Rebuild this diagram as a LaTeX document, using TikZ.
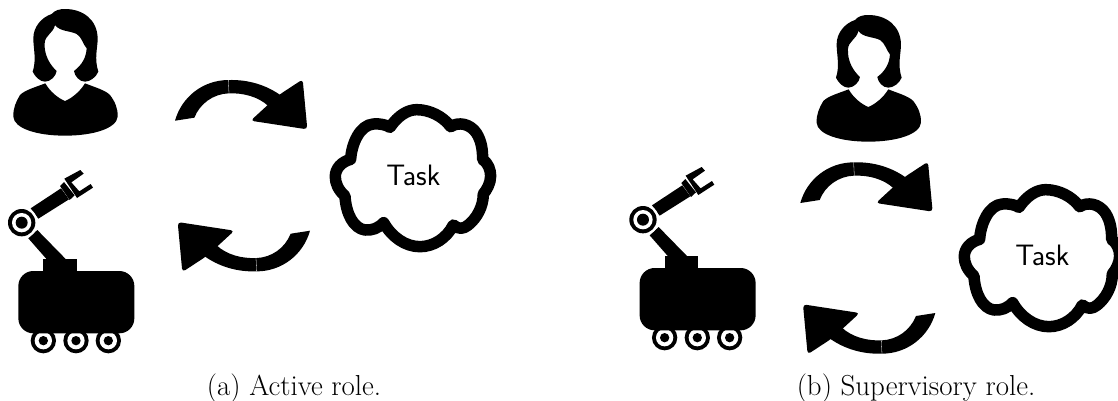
\documentclass[tikz,border=0pt]{standalone}
\usepackage{fontspec}
\tikzset{
  captext/.style={inner sep=0pt,anchor=base,font=\fontsize{28.9}{32}\selectfont\rmfamily},
  tasktext/.style={inner sep=0pt,font=\fontsize{29.5}{32}\selectfont\sffamily},
  person/.pic={
    \begin{scope}[scale=1/3]
    \fill[black] (155,42) .. controls (165,30) and (180,27) .. (195,27)
      .. controls (250,27) and (292,60) .. (293,115)
      .. controls (293,145) and (282,175) .. (295,215)
      .. controls (288,232) and (270,245) .. (255,245)
      .. controls (238,245) and (224,228) .. (222,213)
      .. controls (245,195) and (258,175) .. (260,145)
      .. controls (250,135) and (245,110) .. (230,102)
      .. controls (210,92) and (180,95) .. (165,75)
      .. controls (160,100) and (135,105) .. (134,130)
      .. controls (132,165) and (150,195) .. (170,213)
      .. controls (168,228) and (152,245) .. (135,245)
      .. controls (120,245) and (105,230) .. (98,215)
      .. controls (110,180) and (100,145) .. (100,115)
      .. controls (100,80) and (125,52) .. (155,42) -- cycle;
    \fill[black] (136,250) .. controls (150,275) and (175,295) .. (195,303)
      .. controls (215,295) and (240,275) .. (255,250)
      .. controls (285,262) and (315,270) .. (330,285)
      .. controls (345,305) and (354,325) .. (353,350)
      .. controls (350,385) and (280,407) .. (195,407)
      .. controls (110,407) and (42,385) .. (40,350)
      .. controls (39,325) and (48,305) .. (60,285)
      .. controls (75,270) and (105,262) .. (136,250) -- cycle;
    \end{scope}
  },
  robot/.pic={
    \begin{scope}[scale=1/3]
    \foreach \wx in {130,228,325}{
      \fill[black] (\wx,512) circle (38);
      \fill[white] (\wx,512) circle (26);
      \fill[black] (\wx,512) circle (14);
    }
    \fill[black,rounded corners=15pt] (55,303) rectangle (403,490);
    \fill[black] (130,267) rectangle (231,310);
    \fill[black] (85,205) -- (112,180) -- (200,270) -- (142,270) -- cycle;
    \fill[black] (92,115) -- (183,55) -- (207,88) -- (115,146) -- cycle;
    \fill[white] (65,158) circle (48);
    \fill[black] (65,158) circle (41);
    \fill[white] (65,158) circle (29);
    \fill[black] (65,158) circle (18);
    \fill[black] (180,48) -- (192,36) -- (224,76) -- (209,90) -- cycle;
    \fill[black] (193,26) -- (241,0) -- (251,11) -- (214,37) -- (238,64) -- (272,42) -- (279,53) -- (231,84) -- cycle;
    \end{scope}
  },
  looparrow/.pic={
    \begin{scope}[scale=1/3,shift={(-247.5,-317)}]
    \fill[black] (45,152) .. controls (65,80) and (130,30) .. (205,30)
      .. controls (265,28) and (320,45) .. (365,78)
      -- (325,108) .. controls (295,80) and (250,68) .. (205,70)
      .. controls (160,72) and (120,100) .. (103,143) -- cycle;
    \fill[black,rounded corners=3.5pt] (358,74) -- (428,28) -- (442,178) -- (272,152) -- (322,106) -- cycle;
    \draw[white,line width=0.3pt] (205,30) -- (207,70);
    \end{scope}
  },
  cloudshape/.pic={
    \begin{scope}[scale=1/3,shift={(-760,-315)}]
    \draw[black,line width=11.5pt,line join=round,fill=white]
      (690,172) .. controls (715,135) and (745,119) .. (770,119)
      .. controls (810,119) and (850,140) .. (872,170)
      .. controls (895,155) and (930,160) .. (950,190)
      .. controls (965,215) and (968,240) .. (968,268)
      .. controls (985,280) and (992,300) .. (992,318)
      .. controls (992,340) and (980,360) .. (970,372)
      .. controls (970,410) and (950,445) .. (925,465)
      .. controls (910,478) and (895,478) .. (880,465)
      .. controls (860,505) and (820,530) .. (780,530)
      .. controls (735,530) and (695,500) .. (671,458)
      .. controls (655,475) and (635,482) .. (615,480)
      .. controls (580,475) and (558,430) .. (555,378)
      .. controls (535,360) and (526,340) .. (526,320)
      .. controls (526,295) and (545,275) .. (572,268)
      .. controls (575,220) and (600,165) .. (640,162)
      .. controls (660,160) and (680,165) .. (690,172) -- cycle;
    \end{scope}
  }
}
\begin{document}
\begin{tikzpicture}[x=1pt,y=-1pt]
\useasboundingbox (0,0) rectangle (1118,400);
\clip (0,0) rectangle (1118,400);
\pic (personA) at (0,0) {person};
\pic (robotA) at (0,170) {robot};
\pic (topA) at (242.5,175.7) {looparrow};
\pic[rotate=180] (botA) at (242.5,175.7) {looparrow};
\pic (cloudA) at (413.3,175) {cloudshape};
\node[tasktext] (taskA) at (413.3,175) {Task};
\node[captext] (capA) at (294,395) {(a) Active role.};
\pic (personB) at (803.3,6) {person};
\pic (robotB) at (621.3,167) {robot};
\pic (topB) at (867.8,258) {looparrow};
\pic[rotate=180] (botB) at (867.8,258) {looparrow};
\pic (cloudB) at (1042.3,255) {cloudshape};
\node[tasktext] (taskB) at (1042.3,255) {Task};
\node[captext] (capB) at (916,395) {(b) Supervisory role.};
\end{tikzpicture}
\end{document}
